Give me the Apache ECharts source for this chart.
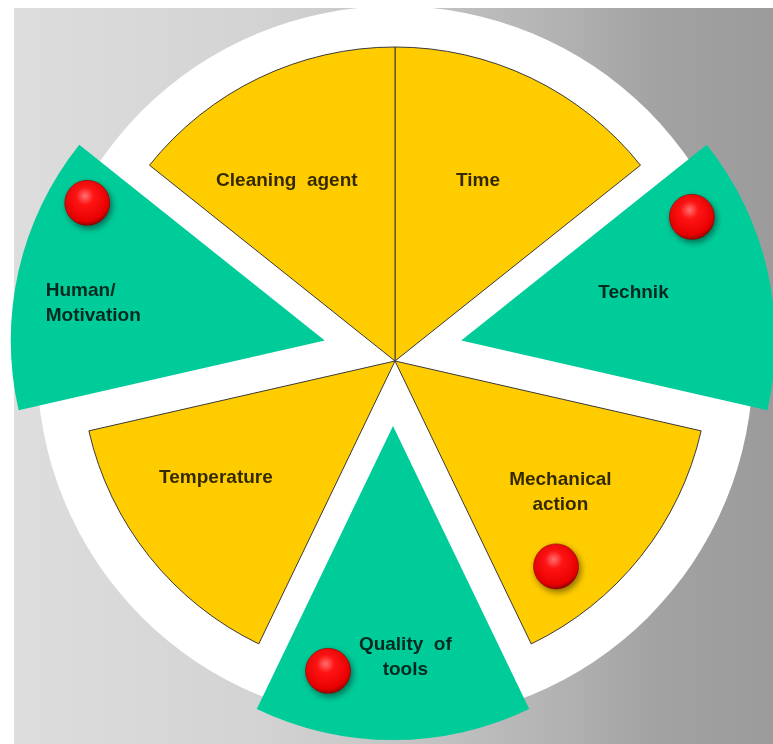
<!DOCTYPE html>
<html><head><meta charset="utf-8">
<script src="https://cdn.jsdelivr.net/npm/echarts@6/dist/echarts.min.js"></script>
<style>html,body{margin:0;padding:0;background:#fff;}#c{width:773px;height:744px;}</style>
</head><body><div id="c"></div>
<script>
// ---- data ----
const categories = ['Time', 'Technik', 'Mechanical action', 'Quality of tools', 'Temperature', 'Human/Motivation', 'Cleaning agent'];
const labelTexts = ['Time', 'Technik', 'Mechanical\naction', 'Quality  of\ntools', 'Temperature', 'Human/\nMotivation', 'Cleaning  agent'];
const sliceValues = [1, 1, 1, 1, 1, 1, 1];
const sliceGroups = ['factor', 'human', 'factor', 'human', 'factor', 'human', 'factor'];
const markedSlices = ['Technik', 'Mechanical action', 'Quality of tools', 'Human/Motivation'];

// ---- layout / style (polar placement: [radius px, clockwise deg from top]) ----
const CENTER = [395, 361];
const HUMAN_CENTER = [393, 356];
const labelPlace = {
  'Time': [198, 24.8], 'Technik': [248, 74.1], 'Mechanical action': [211, 128.4],
  'Quality of tools': [296, 178], 'Temperature': [214, 236.8],
  'Human/Motivation': [354, 279.4], 'Cleaning agent': [210, 329]
};
const ballPlace = {
  'Technik': [330, 64.1], 'Mechanical action': [261, 141.9],
  'Quality of tools': [317, 192.2], 'Human/Motivation': [346, 297.2]
};
const groupColor = { factor: '#FFCC00', human: '#00CC99' };

const chart = echarts.init(document.getElementById('c'), null, { renderer: 'canvas' });

function pieItems(group) {
  return categories.map((name, i) => {
    const mine = sliceGroups[i] === group;
    const style = !mine
      ? { color: 'rgba(0,0,0,0)', borderWidth: 0 }
      : (group === 'human'
        ? { color: groupColor.human, borderWidth: 0 }
        : { color: groupColor.factor, borderColor: '#3a3a3a', borderWidth: 1 });
    return { name: name, value: sliceValues[i], selected: mine && group === 'human', itemStyle: style };
  });
}

const labelData = categories.map((name) => {
  const item = { name: name, value: labelPlace[name] };
  if (name === 'Human/Motivation') item.label = { align: 'left' };
  return item;
});

const ballData = markedSlices.map(name => ({ name: name, value: ballPlace[name] }));

const ballFill = new echarts.graphic.RadialGradient(0.45, 0.35, 0.65, [
  { offset: 0, color: '#ff7070' },
  { offset: 0.3, color: '#ff1414' },
  { offset: 0.85, color: '#e80000' },
  { offset: 1, color: '#9a0000' }
]);

const commonPie = {
  type: 'pie', silent: true, radius: [0, 314], startAngle: 90, clockwise: true,
  label: { show: false }, labelLine: { show: false }, emphasis: { disabled: true }
};

chart.setOption({
  animation: false,
  graphic: [{
    type: 'rect', z: -100, silent: true,
    shape: { x: 14, y: 8, width: 759, height: 736 },
    style: {
      fill: new echarts.graphic.LinearGradient(0, 0, 1, 0, [
        { offset: 0, color: '#dddddd' },
        { offset: 0.32, color: '#d3d3d4' },
        { offset: 0.55, color: '#c2c2c3' },
        { offset: 0.72, color: '#b2b2b3' },
        { offset: 0.85, color: '#a2a2a2' },
        { offset: 1, color: '#9b9b9b' }
      ])
    }
  }],
  polar: { center: CENTER, radius: 400 },
  angleAxis: { type: 'value', min: 0, max: 360, startAngle: 90, clockwise: true, show: false,
    axisLine: { show: false }, splitLine: { show: false }, axisLabel: { show: false }, axisTick: { show: false } },
  radiusAxis: { type: 'value', min: 0, max: 400, show: false,
    axisLine: { show: false }, splitLine: { show: false }, axisLabel: { show: false }, axisTick: { show: false } },
  series: [
    {
      type: 'pie', z: 1, silent: true, center: [395, 364], radius: [0, 358],
      label: { show: false }, labelLine: { show: false }, emphasis: { disabled: true },
      data: [{ value: 1, name: 'bg', itemStyle: { color: '#ffffff' } }]
    },
    Object.assign({}, commonPie, { z: 2, center: CENTER, selectedMode: false, data: pieItems('factor') }),
    Object.assign({}, commonPie, { z: 2, center: HUMAN_CENTER, selectedMode: 'multiple', selectedOffset: 70, data: pieItems('human') }),
    {
      type: 'scatter', z: 3, coordinateSystem: 'polar', silent: true,
      symbol: 'circle', symbolSize: 45,
      itemStyle: { color: ballFill, borderColor: '#8a0000', borderWidth: 0.6,
        shadowBlur: 6, shadowColor: 'rgba(0,0,0,0.45)', shadowOffsetX: 2, shadowOffsetY: 3, opacity: 1 },
      data: ballData
    },
    {
      type: 'scatter', z: 4, coordinateSystem: 'polar', silent: true,
      symbol: 'circle', symbolSize: 0,
      itemStyle: { color: 'rgba(0,0,0,0)' },
      label: {
        show: true, position: 'inside',
        formatter: p => labelTexts[categories.indexOf(p.name)],
        fontFamily: '"Liberation Sans", Arial, sans-serif', fontWeight: 'bold',
        fontSize: 19, lineHeight: 25, color: '#000000', align: 'center'
      },
      data: labelData
    }
  ]
});
</script>
</body></html>
